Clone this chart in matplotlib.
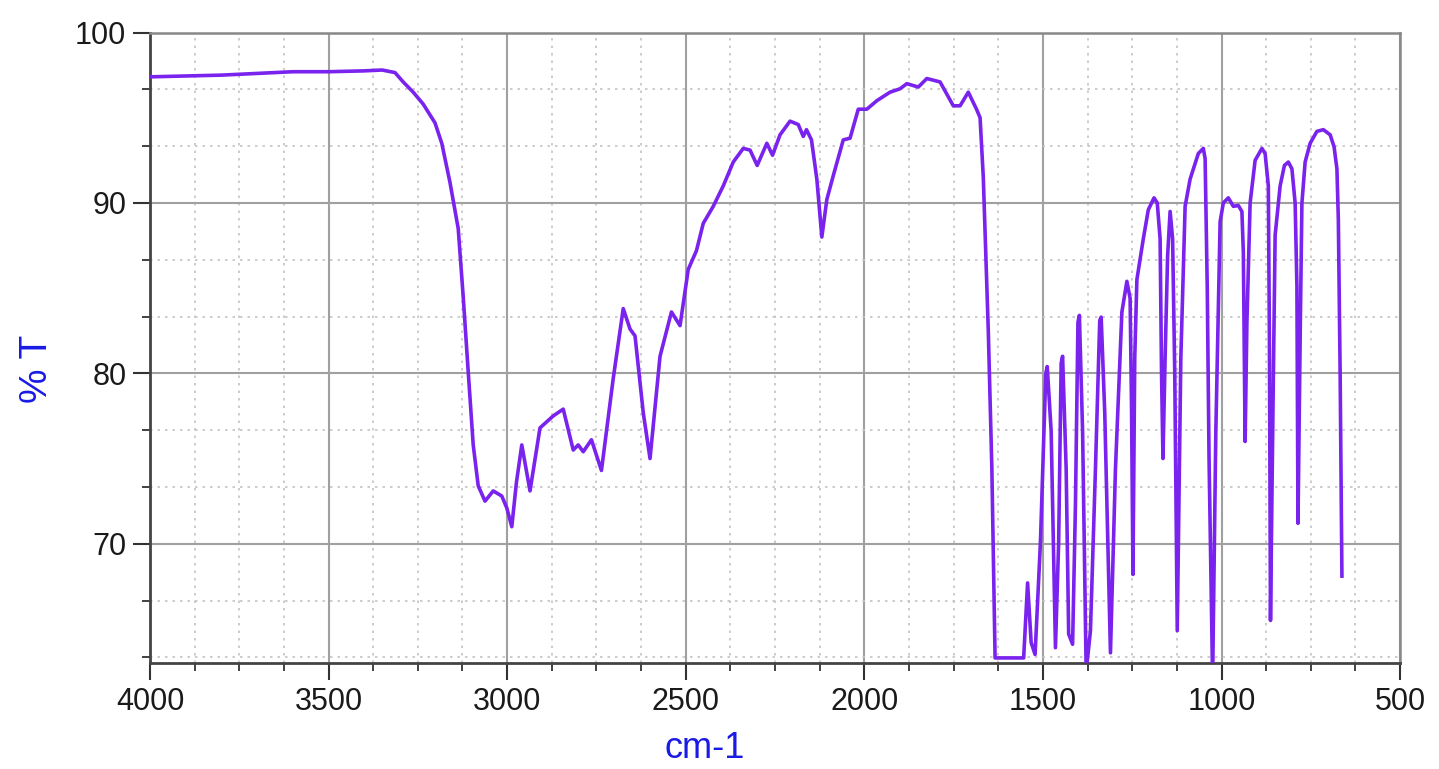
import matplotlib.pyplot as plt
from matplotlib.ticker import MultipleLocator

plt.rcParams['font.family'] = ['Liberation Sans', 'DejaVu Sans']

# IR spectrum (wavenumber in cm-1, transmittance in %)
wavenumber = [
    4000, 3900, 3800, 3700, 3600, 3500, 3400, 3350, 3314, 3291,
    3263, 3235, 3202, 3183, 3160, 3137, 3123, 3109, 3095, 3081,
    3062, 3039, 3015, 3001, 2987, 2974, 2959, 2936, 2908, 2871,
    2843, 2815, 2801, 2787, 2764, 2736, 2703, 2675, 2656, 2642,
    2619, 2600, 2572, 2540, 2516, 2493, 2470, 2451, 2423, 2395,
    2367, 2339, 2320, 2300, 2273, 2257, 2236, 2208, 2185, 2171,
    2162, 2148, 2133, 2119, 2105, 2087, 2059, 2040, 2017, 1993,
    1965, 1928, 1900, 1881, 1849, 1825, 1788, 1751, 1732, 1709,
    1686, 1676, 1667, 1653, 1643, 1634, 1554, 1543, 1533, 1522,
    1507, 1492, 1488, 1477, 1465, 1456, 1449, 1445, 1435, 1428,
    1417, 1409, 1402, 1398, 1389, 1379, 1367, 1353, 1341, 1337,
    1327, 1311, 1297, 1279, 1265, 1256, 1252, 1248, 1243, 1237,
    1219, 1205, 1189, 1180, 1172, 1168, 1164, 1158, 1151, 1144,
    1137, 1131, 1124, 1114, 1102, 1088, 1065, 1051, 1046, 1040,
    1035, 1025, 1016, 1004, 995, 981, 967, 953, 943, 939,
    934, 929, 920, 906, 887, 878, 869, 866, 863, 856,
    850, 836, 824, 813, 803, 794, 789, 786, 780, 775,
    766, 752, 733, 715, 696, 685, 677, 673, 668, 663,
]
transmittance = [
    97.4, 97.45, 97.5, 97.6, 97.7, 97.7, 97.75, 97.8, 97.65, 97.1,
    96.5, 95.8, 94.7, 93.5, 91.2, 88.5, 84.5, 80.1, 75.8, 73.4,
    72.5, 73.1, 72.8, 72.1, 71.0, 73.6, 75.8, 73.1, 76.8, 77.5,
    77.9, 75.5, 75.8, 75.4, 76.1, 74.3, 79.7, 83.8, 82.6, 82.2,
    77.7, 75.0, 81.0, 83.6, 82.8, 86.1, 87.2, 88.8, 89.8, 91.0,
    92.4, 93.2, 93.1, 92.2, 93.5, 92.8, 94.0, 94.8, 94.6, 93.9,
    94.3, 93.7, 91.4, 88.0, 90.2, 91.6, 93.7, 93.8, 95.5, 95.5,
    96.0, 96.5, 96.7, 97.0, 96.8, 97.3, 97.1, 95.7, 95.7, 96.5,
    95.5, 95.0, 91.5, 82.5, 74.4, 63.3, 63.3, 67.7, 64.2, 63.5,
    70.1, 80.0, 80.4, 76.6, 63.9, 70.1, 80.6, 81.0, 74.4, 64.7,
    64.1, 72.3, 83.0, 83.4, 76.6, 62.5, 64.9, 74.4, 83.1, 83.3,
    77.7, 63.6, 74.4, 83.6, 85.4, 84.4, 78.0, 68.2, 80.9, 85.5,
    87.9, 89.6, 90.3, 90.0, 87.9, 80.0, 75.0, 80.9, 86.9, 89.5,
    87.9, 80.0, 64.9, 80.9, 89.8, 91.4, 92.9, 93.2, 92.6, 85.0,
    75.0, 62.0, 76.6, 88.9, 90.0, 90.3, 89.8, 89.85, 89.5, 87.1,
    76.0, 83.0, 90.0, 92.5, 93.2, 92.9, 91.0, 82.0, 65.5, 78.0,
    88.1, 91.0, 92.2, 92.4, 92.0, 90.0, 85.1, 71.2, 82.0, 90.0,
    92.4, 93.5, 94.2, 94.3, 94.0, 93.3, 92.0, 89.0, 80.0, 68.1,
]

fig = plt.figure(figsize=(14.39, 7.69), dpi=100)
ax = fig.add_axes([0.1042, 0.1378, 0.8688, 0.8199])

ax.plot(wavenumber, transmittance, color='#7a22ee', linewidth=2.6,
        solid_joinstyle='round', zorder=3)

ax.set_xlim(4000, 500)
ax.set_ylim(63, 100)
ax.xaxis.set_major_locator(MultipleLocator(500))
ax.xaxis.set_minor_locator(MultipleLocator(125))
ax.yaxis.set_major_locator(MultipleLocator(10))
ax.yaxis.set_minor_locator(MultipleLocator(10 / 3))

ax.grid(which='major', color='#a0a0a0', linewidth=1.5)
ax.grid(which='minor', color='#c4c4c4', linewidth=1.2, linestyle=(0, (1.5, 3)))
ax.set_axisbelow(True)

ax.tick_params(which='major', direction='out', length=12, width=1.5,
               color='#333333', labelsize=22, labelcolor='#1a1a1a', pad=5)
ax.tick_params(which='minor', direction='out', length=6, width=1.3,
               color='#333333')
ax.tick_params(top=False, right=False)

for side in ['left', 'bottom']:
    ax.spines[side].set_color('#444444')
    ax.spines[side].set_linewidth(2)
for side in ['top', 'right']:
    ax.spines[side].set_color('#888888')
    ax.spines[side].set_linewidth(1.8)

fig.text(0.026, 0.52, '% T', color='#1a1ae6', fontsize=28,
         rotation=90, ha='center', va='center')
fig.text(0.49, 0.027, 'cm-1', color='#1a1ae6', fontsize=26,
         ha='center', va='center')

plt.savefig('out.png', dpi=100)
